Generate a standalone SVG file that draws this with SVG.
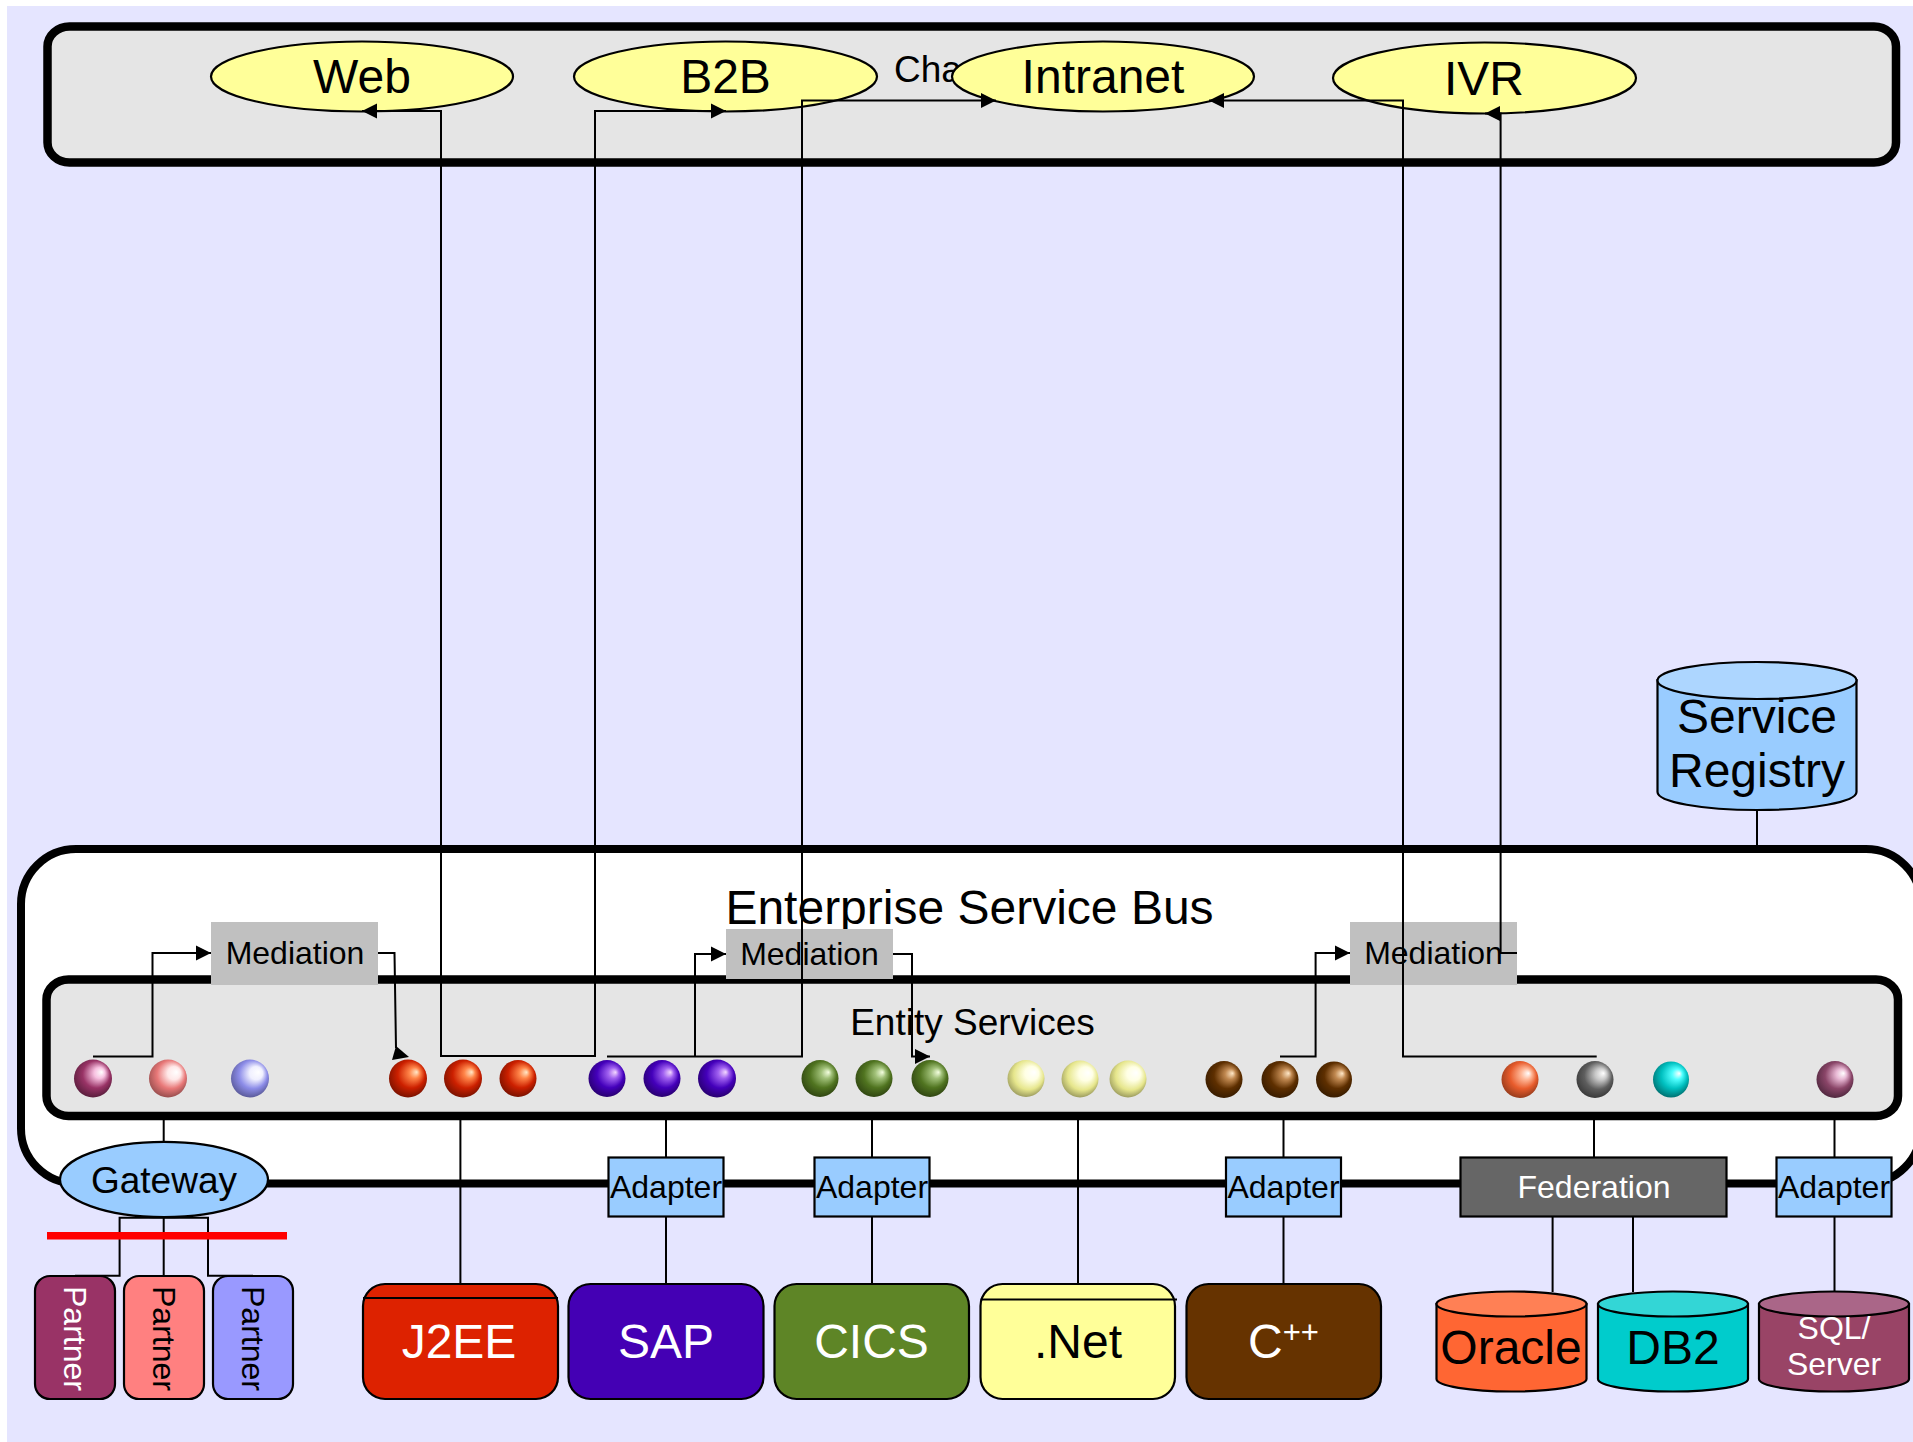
<svg xmlns="http://www.w3.org/2000/svg" width="1913" height="1442" viewBox="0 0 1913 1442">
<style>
text{font-family:"Liberation Sans",Arial,sans-serif;text-anchor:middle;fill:#000}
.f48{font-size:48px}.f37{font-size:37px}.f32{font-size:32px}
.bar{stroke:#000;stroke-width:8.5;fill:#e5e5e5}
.s{stroke:#000;stroke-width:2.2}
.blue{fill:#99ccff}
.yel{fill:#ffff99}
.med{fill:#c0c0c0}
.line{fill:none;stroke:#000;stroke-width:2}
.part{font-size:32px;text-anchor:start}
</style>
<defs>
<marker id="arrow" markerUnits="userSpaceOnUse" markerWidth="16" markerHeight="16" refX="15" refY="8" orient="auto-start-reverse"><path d="M0 0.5L15 8L0 15.5Z" fill="#000"/></marker>
<radialGradient id="gPlum" cx=".45" cy=".45" r=".72" fx=".73" fy=".33"><stop offset="0" stop-color="#fff"/><stop offset=".2" stop-color="#f7c0e0"/><stop offset=".5" stop-color="#993366"/><stop offset="1" stop-color="#2e0f20"/></radialGradient>
<radialGradient id="gSalmon" cx=".45" cy=".45" r=".72" fx=".73" fy=".33"><stop offset="0" stop-color="#fff"/><stop offset=".24" stop-color="#ffe8e8"/><stop offset=".52" stop-color="#e87878"/><stop offset="1" stop-color="#5e3030"/></radialGradient>
<radialGradient id="gPeri" cx=".45" cy=".45" r=".72" fx=".73" fy=".33"><stop offset="0" stop-color="#fff"/><stop offset=".24" stop-color="#f0f0ff"/><stop offset=".52" stop-color="#8c8ce8"/><stop offset="1" stop-color="#363660"/></radialGradient>
<radialGradient id="gRed" cx=".45" cy=".45" r=".72" fx=".73" fy=".33"><stop offset="0" stop-color="#ffe8c8"/><stop offset=".2" stop-color="#ff8448"/><stop offset=".5" stop-color="#cc2000"/><stop offset="1" stop-color="#420800"/></radialGradient>
<radialGradient id="gViolet" cx=".45" cy=".45" r=".72" fx=".73" fy=".33"><stop offset="0" stop-color="#f4d8ff"/><stop offset=".2" stop-color="#a060f0"/><stop offset=".5" stop-color="#4400bb"/><stop offset="1" stop-color="#16003c"/></radialGradient>
<radialGradient id="gGreen" cx=".45" cy=".45" r=".72" fx=".73" fy=".33"><stop offset="0" stop-color="#f4ffe0"/><stop offset=".2" stop-color="#a0c078"/><stop offset=".5" stop-color="#507420"/><stop offset="1" stop-color="#1a2608"/></radialGradient>
<radialGradient id="gPale" cx=".45" cy=".45" r=".72" fx=".73" fy=".33"><stop offset="0" stop-color="#fff"/><stop offset=".26" stop-color="#ffffe4"/><stop offset=".56" stop-color="#e6e68c"/><stop offset="1" stop-color="#5e5e38"/></radialGradient>
<radialGradient id="gBrown" cx=".45" cy=".45" r=".72" fx=".73" fy=".33"><stop offset="0" stop-color="#ffe8c8"/><stop offset=".2" stop-color="#c08850"/><stop offset=".5" stop-color="#5e2f00"/><stop offset="1" stop-color="#1e0f00"/></radialGradient>
<radialGradient id="gOrange" cx=".45" cy=".45" r=".72" fx=".73" fy=".33"><stop offset="0" stop-color="#fff"/><stop offset=".2" stop-color="#ffb898"/><stop offset=".5" stop-color="#e85c2c"/><stop offset="1" stop-color="#5e2612"/></radialGradient>
<radialGradient id="gGray" cx=".45" cy=".45" r=".72" fx=".73" fy=".33"><stop offset="0" stop-color="#fff"/><stop offset=".22" stop-color="#c8c8c8"/><stop offset=".52" stop-color="#5e5e5e"/><stop offset="1" stop-color="#1e1e1e"/></radialGradient>
<radialGradient id="gCyan" cx=".45" cy=".45" r=".72" fx=".73" fy=".33"><stop offset="0" stop-color="#fff"/><stop offset=".2" stop-color="#50ffff"/><stop offset=".5" stop-color="#00c0c0"/><stop offset="1" stop-color="#003c3c"/></radialGradient>
<radialGradient id="gMauve" cx=".45" cy=".45" r=".72" fx=".73" fy=".33"><stop offset="0" stop-color="#fff"/><stop offset=".2" stop-color="#e8b8d4"/><stop offset=".5" stop-color="#8a4568"/><stop offset="1" stop-color="#2a1524"/></radialGradient>
</defs>
<rect width="1913" height="1442" fill="#fff"/>
<rect x="7" y="6" width="1906" height="1436" fill="#e5e5ff"/>

<g id="channels">
<rect class="bar" x="47.5" y="26.5" width="1848.5" height="136" rx="22" ry="20"/>
<text class="f37" x="894" y="82" style="text-anchor:start">Cha</text>
</g>
<g id="esb">
<rect x="21" y="849" width="1900" height="334.5" rx="55" ry="55" fill="#fff" stroke="#000" stroke-width="8"/>
<text class="f48" x="969.5" y="924">Enterprise Service Bus</text>
</g>
<g id="entity-services">
<rect class="bar" x="46.5" y="979.5" width="1851.5" height="136.5" rx="22" ry="20"/>
<text class="f37" x="972.5" y="1035">Entity Services</text>
</g>

<g id="node-web"><ellipse class="yel s" cx="362" cy="76.5" rx="151" ry="35"/><text class="f48" x="362" y="93">Web</text></g>
<g id="node-b2b"><ellipse class="yel s" cx="725.5" cy="76.5" rx="151.5" ry="35"/><text class="f48" x="725.5" y="93">B2B</text></g>
<g id="node-intranet"><ellipse class="yel s" cx="1103" cy="76.5" rx="151" ry="35"/><text class="f48" x="1103" y="93">Intranet</text></g>
<g id="node-ivr"><ellipse class="yel s" cx="1484.5" cy="78" rx="151.5" ry="35.5"/><text class="f48" x="1484" y="95">IVR</text></g>

<g id="node-registry">
<path class="blue s" d="M1657.5 680V792A99.5 18 0 0 0 1856.5 792V680Z"/>
<ellipse class="s" fill="#add6ff" cx="1757" cy="680.5" rx="99.5" ry="18.5"/>
<text class="f48" x="1757" y="733">Service</text><text class="f48" x="1757" y="787">Registry</text>
</g>

<g id="balls">
<circle cx="93" cy="1078.5" r="19" fill="url(#gPlum)"/>
<circle cx="168" cy="1078.5" r="19" fill="url(#gSalmon)"/>
<circle cx="250" cy="1078.5" r="19" fill="url(#gPeri)"/>
<circle cx="408" cy="1078.5" r="19" fill="url(#gRed)"/>
<circle cx="463" cy="1078.5" r="19" fill="url(#gRed)"/>
<circle cx="518" cy="1078.5" r="18.5" fill="url(#gRed)"/>
<circle cx="607" cy="1078.5" r="18.5" fill="url(#gViolet)"/>
<circle cx="662" cy="1078.5" r="18.5" fill="url(#gViolet)"/>
<circle cx="717" cy="1078.5" r="19" fill="url(#gViolet)"/>
<circle cx="820" cy="1078.5" r="18.5" fill="url(#gGreen)"/>
<circle cx="874" cy="1078.5" r="18.5" fill="url(#gGreen)"/>
<circle cx="930" cy="1078.5" r="18.5" fill="url(#gGreen)"/>
<circle cx="1026" cy="1078.5" r="18.5" fill="url(#gPale)"/>
<circle cx="1080" cy="1079" r="18.5" fill="url(#gPale)"/>
<circle cx="1128" cy="1079" r="18.5" fill="url(#gPale)"/>
<circle cx="1224" cy="1079.5" r="18.5" fill="url(#gBrown)"/>
<circle cx="1280" cy="1079.5" r="18.5" fill="url(#gBrown)"/>
<circle cx="1334" cy="1079.5" r="18" fill="url(#gBrown)"/>
<circle cx="1520" cy="1079.5" r="18.5" fill="url(#gOrange)"/>
<circle cx="1595" cy="1079.5" r="18.5" fill="url(#gGray)"/>
<circle cx="1671" cy="1079.5" r="18" fill="url(#gCyan)"/>
<circle cx="1835" cy="1079.5" r="18.5" fill="url(#gMauve)"/>
</g>

<g id="node-med1"><rect class="med" x="211" y="922" width="167" height="63"/><text class="f32" x="295" y="964">Mediation</text></g>
<g id="node-med2"><rect class="med" x="726" y="929" width="167" height="50"/><text class="f32" x="809.5" y="965">Mediation</text></g>
<g id="node-med3"><rect class="med" x="1350" y="922" width="167" height="63"/><text class="f32" x="1433.5" y="964">Mediation</text></g>

<g id="node-gateway"><ellipse class="blue s" cx="164" cy="1179.5" rx="104" ry="37.7"/><text class="f37" x="164" y="1193">Gateway</text></g>
<g id="node-adapter1"><rect class="blue s" x="608.5" y="1157.5" width="115" height="59"/><text class="f32" x="666" y="1198">Adapter</text></g>
<g id="node-adapter2"><rect class="blue s" x="814.5" y="1157.5" width="115" height="59"/><text class="f32" x="872" y="1198">Adapter</text></g>
<g id="node-adapter3"><rect class="blue s" x="1226" y="1157.5" width="115" height="59"/><text class="f32" x="1283.5" y="1198">Adapter</text></g>
<g id="node-federation"><rect class="s" fill="#666" x="1460.5" y="1157.5" width="266" height="59"/><text class="f32" x="1594" y="1198" style="fill:#fff">Federation</text></g>
<g id="node-adapter4"><rect class="blue s" x="1776.5" y="1157.5" width="115" height="59"/><text class="f32" x="1834" y="1198">Adapter</text></g>

<g id="node-partner1"><rect class="s" fill="#993366" x="35" y="1276" width="80" height="123" rx="15"/><text class="part" transform="translate(64 1286) rotate(90)" style="fill:#fff">Partner</text></g>
<g id="node-partner2"><rect class="s" fill="#ff8080" x="124" y="1276" width="80" height="123" rx="15"/><text class="part" transform="translate(152.5 1286) rotate(90)">Partner</text></g>
<g id="node-partner3"><rect class="s" fill="#9999ff" x="213" y="1276" width="80" height="123" rx="15"/><text class="part" transform="translate(241.5 1286) rotate(90)">Partner</text></g>

<g id="node-j2ee"><rect class="s" fill="#dd2200" x="363" y="1284" width="195" height="115" rx="22"/><path class="line" d="M363 1298H558"/><text class="f48" x="459" y="1358" style="fill:#fff">J2EE</text></g>
<g id="node-sap"><rect class="s" fill="#4400b4" x="568.5" y="1284" width="195" height="115" rx="22"/><text class="f48" x="666" y="1358" style="fill:#fff">SAP</text></g>
<g id="node-cics"><rect class="s" fill="#5e8526" x="774.5" y="1284" width="194.5" height="115" rx="22"/><text class="f48" x="871.5" y="1358" style="fill:#fff">CICS</text></g>
<g id="node-net"><rect class="yel s" x="980.5" y="1284" width="194.5" height="115" rx="22"/><path class="line" d="M980.5 1299.5H1177"/><text class="f48" x="1078" y="1358">.Net</text></g>
<g id="node-cpp"><rect class="s" fill="#663300" x="1186.5" y="1284" width="194.5" height="115" rx="22"/><text class="f48" x="1283.5" y="1358" style="fill:#fff">C<tspan font-size="31" dy="-15" style="fill:#fff">++</tspan></text></g>

<g id="node-oracle"><path class="s" fill="#ff6633" d="M1436.5 1304V1379A75 12.5 0 0 0 1586.5 1379V1304Z"/><ellipse class="s" fill="#ff8055" cx="1511.5" cy="1304" rx="75" ry="12.5"/><text class="f48" x="1511" y="1364">Oracle</text></g>
<g id="node-db2"><path class="s" fill="#00cccc" d="M1598 1304V1379A75 12.5 0 0 0 1748 1379V1304Z"/><ellipse class="s" fill="#33d6d6" cx="1673" cy="1304" rx="75" ry="12.5"/><text class="f48" x="1673" y="1364">DB2</text></g>
<g id="node-sql"><path class="s" fill="#994466" d="M1759 1304V1379A75 12.5 0 0 0 1909 1379V1304Z"/><ellipse class="s" fill="#aa6688" cx="1834" cy="1304" rx="75" ry="12.5"/><text class="f32" x="1834" y="1339" style="fill:#fff">SQL/</text><text class="f32" x="1834" y="1375" style="fill:#fff">Server</text></g>

<g id="connectors">
<path class="line" marker-start="url(#arrow)" marker-end="url(#arrow)" d="M362 111H441V1056H595V111H726"/>
<path class="line" marker-end="url(#arrow)" d="M607 1056.5H802V100.5H996"/>
<path class="line" marker-end="url(#arrow)" d="M1596.7 1056.5H1403V100.5H1209"/>
<path class="line" marker-end="url(#arrow)" d="M1517 953H1500.6V113.5H1485"/>
<path class="line" marker-end="url(#arrow)" d="M93 1056.5H152.5V953H211"/>
<path class="line" d="M378 953H394.5L396 1048"/>
<path d="M392 1060L409 1057L396 1046Z" fill="#000"/>
<path class="line" marker-end="url(#arrow)" d="M695 1056.5V954H726"/>
<path class="line" marker-end="url(#arrow)" d="M893 954H912V1056.5H930"/>
<path class="line" marker-end="url(#arrow)" d="M1280 1056.5H1315.6V953H1350"/>
<path class="line" d="M1757 810V846"/>
<path class="line" d="M163.7 1120V1142"/>
<path class="line" d="M460.4 1120V1284"/>
<path class="line" d="M666 1120V1157M666 1217V1284"/>
<path class="line" d="M872 1120V1157M872 1217V1284"/>
<path class="line" d="M1078 1120V1284"/>
<path class="line" d="M1283.5 1120V1157M1283.5 1217V1284"/>
<path class="line" d="M1594 1120V1157M1552.6 1217V1292M1633 1217V1292"/>
<path class="line" d="M1834.5 1120V1157M1834.5 1217V1292"/>
<path class="line" d="M75 1275.7H119.6V1217.7H208V1275.7H253M163.7 1217.7V1275.7"/>
</g>
<rect id="red-line" x="47" y="1232" width="240" height="7.5" fill="#ff0000"/>
</svg>
